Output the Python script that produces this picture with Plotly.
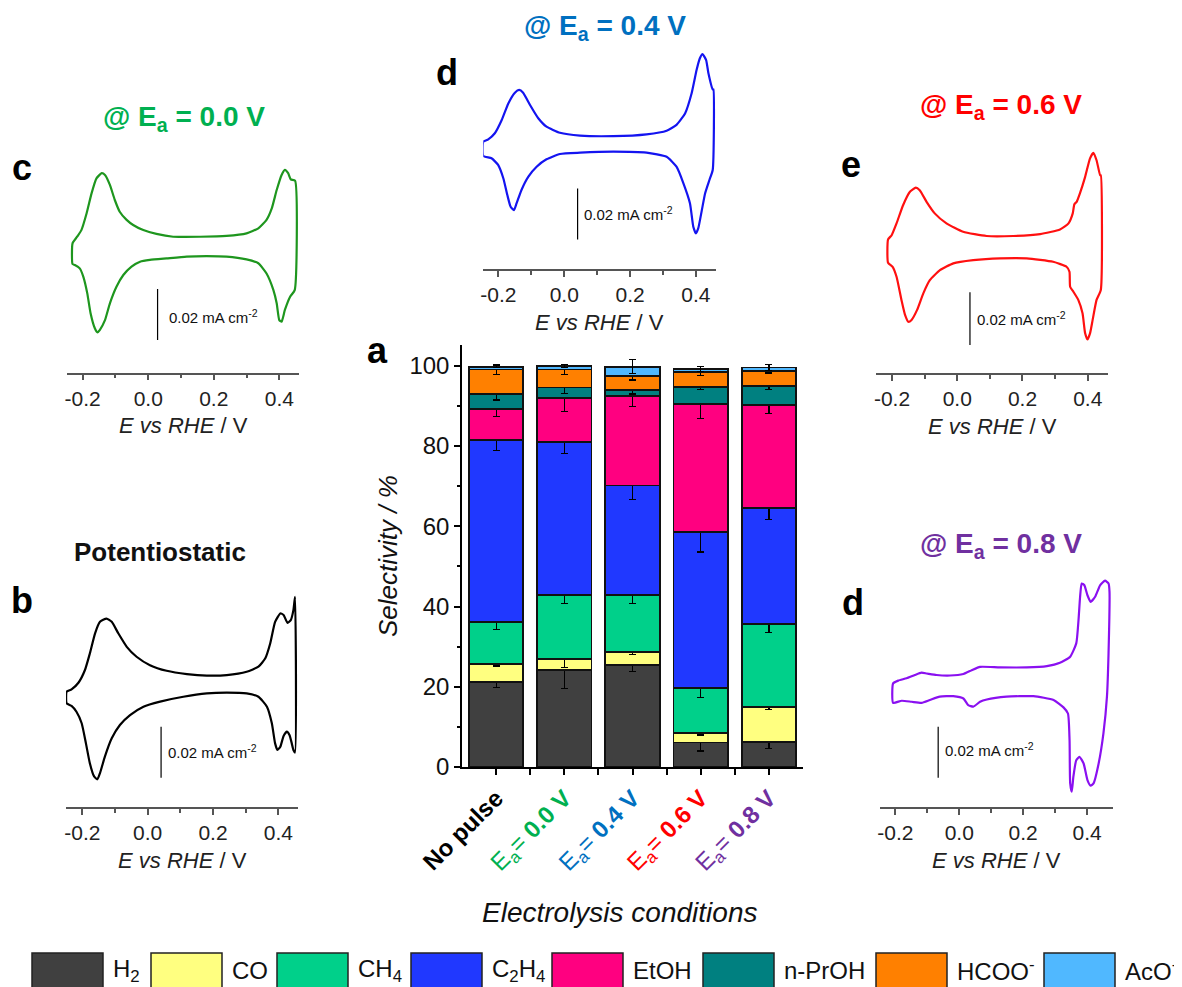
import plotly.graph_objects as go

W, H = 1182, 987
OFF = 8  # page body margin of the rendered html
FONT = "Liberation Sans, Arial, sans-serif"

# ---------------- bar chart data (panel a) ----------------
conditions = ["No pulse", "0.0 V", "0.4 V", "0.6 V", "0.8 V"]
cond_colors = ["#000000", "#00B050", "#0070C0", "#FF0000", "#7030A0"]
products = ["H<sub>2</sub>", "CO", "CH<sub>4</sub>", "C<sub>2</sub>H<sub>4</sub>", "EtOH",
            "n-PrOH", "HCOO<sup>-</sup>", "AcO<sup>-</sup>"]
prod_colors = ["#404040", "#FFFF80", "#00D08A", "#2038FF", "#FF0080", "#008080", "#FF8000", "#50B8FF"]

H2 = [21.2, 24.2, 25.5, 6.1, 6.3]
CO = [4.5, 2.8, 3.1, 2.4, 8.7]
CH4 = [10.4, 15.8, 14.2, 11.2, 20.6]
C2H4 = [45.4, 38.3, 27.4, 38.9, 28.9]
EtOH = [7.8, 10.9, 22.3, 31.9, 25.8]
nPrOH = [3.7, 2.6, 1.5, 4.3, 4.7]
HCOO = [6.1, 4.5, 3.5, 3.6, 3.8]
AcO = [0.7, 0.8, 2.3, 0.8, 0.8]

H2_err = [1.45, 4.6, 1.75, 2.1, 1.75]
CO_err = [0.5, 2.2, 0.5, 0.5, 0.6]
CH4_err = [1.75, 2.1, 2.1, 2.3, 2.1]
C2H4_err = [2.65, 3.0, 3.5, 5.0, 2.8]
EtOH_err = [1.95, 3.3, 2.7, 3.7, 2.15]
nPrOH_err = [1.5, 1.5, 1.0, 0.7, 0.8]
HCOO_err = [1.2, 1.3, 1.0, 0.8, 0.6]
AcO_err = [0.3, 0.4, 1.75, 0.6, 0.7]

series = [H2, CO, CH4, C2H4, EtOH, nPrOH, HCOO, AcO]
errors = [H2_err, CO_err, CH4_err, C2H4_err, EtOH_err, nPrOH_err, HCOO_err, AcO_err]

sel_ticks = [0, 20, 40, 60, 80, 100]

# ---------------- cyclic voltammograms (E in V, j in uA cm^-2) ----------------
c_E = [-0.231, -0.231, -0.217, -0.204, -0.188, -0.173, -0.158, -0.142, -0.132, -0.117, -0.102, -0.087,
       -0.066, -0.046, -0.015, 0.025, 0.076, 0.158, 0.239, 0.300, 0.336, 0.361, 0.377, 0.392, 0.407,
       0.417, 0.427, 0.435, 0.448, 0.447, 0.433, 0.417, 0.407, 0.400, 0.392, 0.382, 0.361, 0.336, 0.300,
       0.239, 0.178, 0.117, 0.056, 0.005, -0.025, -0.051, -0.076, -0.097, -0.117, -0.132, -0.148, -0.155,
       -0.163, -0.176, -0.186, -0.198, -0.209, -0.224, -0.231]
c_j = [-6.8, 1.3, 3.9, 6.5, 13.1, 20.9, 26.8, 28.8, 28.1, 24.2, 18.3, 13.7, 10.5, 8.5, 6.5, 5.0, 3.9,
       3.9, 4.2, 5.2, 7.2, 10.5, 15.0, 22.2, 28.1, 30.1, 28.8, 26.4, 25.9, -17.0, -19.6, -24.8, -29.4,
       -28.8, -22.2, -17.0, -10.5, -6.5, -5.0, -3.9, -3.7, -3.9, -4.6, -5.2, -5.9, -7.8, -11.1, -15.7,
       -22.2, -28.8, -32.7, -33.6, -32.0, -26.1, -18.3, -11.8, -8.5, -7.2, -6.8]

b_E = [-0.248, -0.248, -0.233, -0.212, -0.192, -0.177, -0.161, -0.146, -0.126, -0.110, -0.090, -0.064,
       -0.034, 0.007, 0.058, 0.120, 0.181, 0.242, 0.303, 0.339, 0.360, 0.375, 0.390, 0.406, 0.416, 0.428,
       0.438, 0.446, 0.451, 0.451, 0.446, 0.441, 0.434, 0.426, 0.416, 0.406, 0.397, 0.390, 0.380, 0.365,
       0.339, 0.303, 0.242, 0.181, 0.109, 0.038, -0.013, -0.054, -0.085, -0.110, -0.131, -0.146, -0.154,
       -0.164, -0.177, -0.189, -0.202, -0.218, -0.233, -0.248]
b_j = [-7.2, -2.6, -1.7, 0.9, 5.9, 12.4, 20.3, 24.8, 26.1, 24.8, 20.3, 15.0, 11.1, 7.8, 5.6, 4.3, 3.7,
       3.9, 5.2, 7.2, 10.5, 16.3, 24.8, 28.1, 27.5, 24.4, 25.5, 29.4, 34.6, -26.5, -25.5, -22.9, -19.6,
       -18.3, -20.0, -24.2, -25.5, -22.9, -15.0, -8.5, -4.6, -3.3, -3.0, -3.3, -4.6, -6.5, -8.5, -11.8,
       -15.7, -20.9, -28.1, -34.6, -37.0, -35.9, -30.7, -22.9, -15.0, -10.5, -8.2, -7.2]

d_E = [-0.246, -0.246, -0.231, -0.211, -0.190, -0.170, -0.150, -0.137, -0.125, -0.104, -0.079, -0.054,
       -0.013, 0.048, 0.149, 0.250, 0.311, 0.341, 0.367, 0.387, 0.402, 0.412, 0.420, 0.431, 0.438, 0.451,
       0.453, 0.451, 0.441, 0.428, 0.418, 0.407, 0.400, 0.392, 0.382, 0.362, 0.341, 0.311, 0.250, 0.149,
       0.048, -0.013, -0.054, -0.084, -0.109, -0.130, -0.145, -0.153, -0.163, -0.173, -0.185, -0.201,
       -0.221, -0.246]
d_j = [-4.7, 0.9, 1.8, 4.2, 9.4, 15.9, 20.1, 21.2, 20.1, 15.3, 10.1, 6.8, 4.4, 3.3, 3.1, 3.8, 5.2, 7.5,
       12.0, 19.9, 29.0, 33.6, 35.2, 32.9, 27.7, 21.4, 21.4, -10.2, -14.1, -19.3, -25.9, -33.1, -35.0,
       -32.4, -23.3, -15.4, -8.9, -5.0, -3.4, -3.0, -3.4, -3.9, -6.0, -8.9, -12.8, -18.0, -23.3, -25.9,
       -24.6, -20.0, -13.5, -8.2, -5.6, -4.7]

e_E = [-0.212, -0.212, -0.201, -0.186, -0.166, -0.145, -0.127, -0.115, -0.094, -0.069, -0.033, 0.018,
       0.090, 0.172, 0.254, 0.315, 0.341, 0.354, 0.359, 0.366, 0.376, 0.392, 0.407, 0.417, 0.427, 0.438,
       0.440, 0.440, 0.427, 0.415, 0.407, 0.399, 0.392, 0.384, 0.371, 0.356, 0.346, 0.344, 0.335, 0.294,
       0.213, 0.131, 0.049, -0.012, -0.053, -0.084, -0.104, -0.123, -0.140, -0.150, -0.160, -0.171,
       -0.186, -0.198, -0.212]
e_j = [-5.6, 3.3, 4.9, 9.4, 16.3, 21.4, 23.0, 22.0, 17.6, 13.2, 9.4, 6.2, 4.6, 4.6, 5.3, 7.1, 9.4, 13.2,
       16.7, 17.6, 20.8, 27.1, 34.1, 36.2, 33.4, 27.7, 27.7, -15.9, -19.7, -27.3, -32.4, -34.7, -32.4,
       -24.8, -19.7, -16.6, -14.7, -9.0, -7.1, -5.2, -3.9, -3.9, -4.6, -5.8, -8.4, -12.2, -17.2, -23.5,
       -27.3, -28.0, -25.4, -19.7, -10.9, -7.1, -5.6]

f_E = [-0.207, -0.207, -0.191, -0.165, -0.139, -0.118, -0.102, -0.071, -0.029, 0.013, 0.039, 0.065,
       0.127, 0.211, 0.274, 0.315, 0.347, 0.366, 0.373, 0.378, 0.383, 0.391, 0.401, 0.411, 0.425, 0.441,
       0.456, 0.467, 0.470, 0.467, 0.462, 0.451, 0.436, 0.420, 0.411, 0.401, 0.389, 0.376, 0.366, 0.357,
       0.352, 0.347, 0.345, 0.340, 0.326, 0.295, 0.232, 0.148, 0.086, 0.065, 0.044, 0.028, 0.013, -0.019,
       -0.061, -0.092, -0.118, -0.149, -0.180, -0.207]
f_j = [-6.3, 1.3, 2.4, 3.3, 4.6, 5.5, 5.2, 4.6, 4.4, 5.0, 6.5, 7.8, 7.6, 7.6, 8.1, 9.4, 11.8, 17.0, 26.1,
       35.3, 40.5, 39.9, 35.9, 33.3, 35.3, 39.9, 41.6, 40.5, 37.3, 13.1, -3.9, -18.3, -30.1, -37.9, -38.8,
       -36.6, -30.1, -27.5, -28.8, -35.3, -41.2, -37.9, -20.9, -10.5, -8.1, -5.2, -3.7, -3.9, -5.0, -5.9,
       -7.8, -7.2, -4.6, -3.7, -3.9, -5.2, -6.3, -5.9, -5.5, -6.3]

cv_ticks = [-0.2, 0.0, 0.2, 0.4]
cv_ticktext = ["-0.2", "0.0", "0.2", "0.4"]
scale_len = 20.0  # uA cm^-2  (0.02 mA cm^-2)


def fx(p):
    return (p - OFF) / W


def fy(p):
    return 1 - (p - OFF) / H


fig = go.Figure()

# ---------------- panel a: stacked bars ----------------
xpos = list(range(len(conditions)))
for name, vals, errs, col in zip(products, series, errors, prod_colors):
    fig.add_trace(go.Bar(
        x=xpos, y=vals, name=name, width=0.8,
        marker=dict(color=col, line=dict(color="#111111", width=1.8)),
        error_y=dict(type="data", array=errs, color="black", thickness=1.2, width=3.5),
        xaxis="x", yaxis="y", showlegend=False))

ticktext = []
for cond, col in zip(conditions, cond_colors):
    if cond == "No pulse":
        ticktext.append("<b>No pulse</b>")
    else:
        ticktext.append(f"<span style='color:{col}'>E<sub>a</sub>= <b>{cond}</b></span>")

layout = dict(
    width=W, height=H, margin=dict(l=0, r=0, t=0, b=0, autoexpand=False),
    paper_bgcolor="white", plot_bgcolor="white",
    barmode="stack", bargap=0.2,
    font=dict(family=FONT, color="#111111"),
    showlegend=False,
    xaxis=dict(domain=[fx(462), fx(803)], anchor="y", range=[-0.5, 4.5],
               tickvals=xpos, ticktext=ticktext, tickangle=-45,
               tickfont=dict(size=24, color="black", family=FONT),
               ticks="outside", ticklen=6, tickwidth=1.5, tickcolor="black",
               minor=dict(tickvals=[0.5, 1.5, 2.5, 3.5], ticks="outside", ticklen=6,
                          tickwidth=1.5, tickcolor="black"),
               showline=True, linecolor="black", linewidth=1.5,
               showgrid=False, zeroline=False, automargin=False),
    yaxis=dict(domain=[fy(767), fy(345)], anchor="x", range=[0, 105.2],
               tickvals=sel_ticks, tickfont=dict(size=24, color="#111111", family=FONT),
               ticks="outside", ticklen=6, tickwidth=1.5, tickcolor="black",
               minor=dict(dtick=10, tick0=0, ticks="outside", ticklen=3.5, tickwidth=1.5,
                          tickcolor="black"),
               showline=True, linecolor="black", linewidth=1.5,
               showgrid=False, zeroline=False, automargin=False),
)

# ---------------- CV panels ----------------
panels = [
    dict(E=c_E, j=c_j, color="#1E961E", xd=(67.3, 299.3), yd=(372.7, 150), xr=[-0.247, 0.461],
         yr=[-49.4, 37.9], bar=(0.0285, -16.6), lab=(0.056, -27.5)),
    dict(E=b_E, j=b_j, color="#000000", xd=(66, 298.3), yd=(807.3, 590), xr=[-0.250, 0.461],
         yr=[-48.0, 37.3], bar=(0.041, -16.4), lab=(0.055, -26.1)),
    dict(E=d_E, j=d_j, color="#1414F0", xd=(483.3, 716), yd=(269.3, 45), xr=[-0.246, 0.461],
         yr=[-49.1, 38.8], bar=(0.0405, -17.4), lab=(0.055, -27.2)),
    dict(E=e_E, j=e_j, color="#FF1010", xd=(876, 1108.3), yd=(373.3, 140), xr=[-0.249, 0.463],
         yr=[-47.6, 41.1], bar=(0.039, -16.8), lab=(0.054, -26.7)),
    dict(E=f_E, j=f_j, color="#8A10F0", xd=(880, 1112.7), yd=(807.3, 570), xr=[-0.248, 0.480],
         yr=[-47.3, 45.8], bar=(-0.066, -15.7), lab=(-0.050, -24.8)),
]

shapes = []
annotations = []
for i, p in enumerate(panels, start=2):
    xa, ya = f"x{i}", f"y{i}"
    fig.add_trace(go.Scatter(x=p["E"], y=p["j"], mode="lines",
                             line=dict(color=p["color"], width=2.2, shape="spline", smoothing=0.5),
                             xaxis=xa, yaxis=ya, showlegend=False, hoverinfo="skip"))
    layout[f"xaxis{i}"] = dict(
        domain=[fx(p["xd"][0]), fx(p["xd"][1])], anchor=ya, range=p["xr"],
        tickvals=cv_ticks, ticktext=cv_ticktext,
        tickfont=dict(size=21, color="#222222", family=FONT),
        ticks="outside", ticklen=6, tickwidth=1.5, tickcolor="#555555",
        minor=dict(dtick=0.1, tick0=0, ticks="outside", ticklen=4, tickwidth=1.5,
                   tickcolor="#555555"),
        showline=True, linecolor="#555555", linewidth=1.5,
        showgrid=False, zeroline=False, automargin=False)
    layout[f"yaxis{i}"] = dict(domain=[fy(p["yd"][0]), fy(p["yd"][1])], anchor=xa,
                               range=p["yr"], visible=False)
    bx, by = p["bar"]
    shapes.append(dict(type="line", xref=xa, yref=ya, x0=bx, x1=bx, y0=by, y1=by - scale_len,
                       line=dict(color="black", width=1.2)))
    lx, ly = p["lab"]
    annotations.append(dict(xref=xa, yref=ya, x=lx, y=ly, xanchor="left", yanchor="middle",
                            text="0.02 mA cm<sup>-2</sup>", showarrow=False,
                            font=dict(size=15, color="#111111", family=FONT)))
    cx = (p["xd"][0] + p["xd"][1]) / 2
    annotations.append(dict(xref="paper", yref="paper", x=fx(cx), y=fy(p["yd"][0] + 53),
                            xanchor="center", yanchor="middle",
                            text="<i>E vs RHE</i> / V", showarrow=False,
                            font=dict(size=22, color="#222222", family=FONT)))

# panel titles and letters
titles = [
    ("<b>@ E<sub>a</sub> = 0.0 V</b>", "#00B050", 184, 118, 28),
    ("<b>Potentiostatic</b>", "#111111", 160, 552, 26),
    ("<b>@ E<sub>a</sub> = 0.4 V</b>", "#0070C0", 605, 27, 28),
    ("<b>@ E<sub>a</sub> = 0.6 V</b>", "#FF0000", 1001, 106, 28),
    ("<b>@ E<sub>a</sub> = 0.8 V</b>", "#7030A0", 1001, 545, 28),
]
for txt, col, x, y, s in titles:
    annotations.append(dict(xref="paper", yref="paper", x=fx(x), y=fy(y), xanchor="center",
                            yanchor="middle", text=txt, showarrow=False,
                            font=dict(size=s, color=col, family=FONT)))

letters = [("a", 377, 351), ("b", 22, 600), ("c", 22, 167), ("d", 447, 72), ("e", 851, 165),
           ("d", 853, 602)]
for t, x, y in letters:
    annotations.append(dict(xref="paper", yref="paper", x=fx(x), y=fy(y), xanchor="center",
                            yanchor="middle", text=f"<b>{t}</b>", showarrow=False,
                            font=dict(size=36, color="black", family=FONT)))

# axis titles of panel a
annotations.append(dict(xref="paper", yref="paper", x=fx(388), y=fy(556), textangle=-90,
                        xanchor="center", yanchor="middle", text="<i>Selectivity / %</i>",
                        showarrow=False, font=dict(size=26, color="#111111", family=FONT)))
annotations.append(dict(xref="paper", yref="paper", x=fx(619), y=fy(912),
                        xanchor="center", yanchor="middle", text="<i>Electrolysis conditions</i>",
                        showarrow=False, font=dict(size=28, color="#111111", family=FONT)))

# legend (swatches + labels)
legend_x = [32, 151, 277, 411, 552, 703, 876, 1044]
for lx, name, col in zip(legend_x, products, prod_colors):
    shapes.append(dict(type="rect", xref="paper", yref="paper", x0=fx(lx), x1=fx(lx + 71),
                       y0=fy(953), y1=fy(1000), fillcolor=col,
                       line=dict(color="#222222", width=1.5)))
    annotations.append(dict(xref="paper", yref="paper", x=fx(lx + 79), y=fy(970),
                            xanchor="left", yanchor="middle", text=name, showarrow=False,
                            font=dict(size=24, color="#111111", family=FONT)))

layout["shapes"] = shapes
layout["annotations"] = annotations
fig.update_layout(**layout)

fig.write_html("out.html")
